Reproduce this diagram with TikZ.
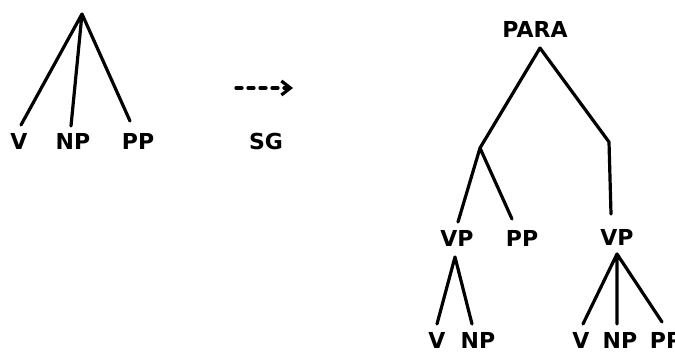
\documentclass[tikz,border=0pt]{standalone}
\usepackage{fontspec}
\setmainfont{DejaVu Sans}
\usetikzlibrary{arrows.meta}
\begin{document}
\begin{tikzpicture}[x=1pt,y=-1pt,
  lab/.style={font=\bfseries\fontsize{22}{22}\selectfont, inner sep=0pt},
  edge/.style={line width=3.2pt, line cap=round, line join=round}]
\useasboundingbox (0,0) rectangle (675,352);
% left tree
\coordinate (t) at (82,14);
\coordinate (tv) at (21,125);
\coordinate (tnp) at (71,126);
\coordinate (tpp) at (130,121);
\node[lab] (v1) at (19,141) {V};
\node[lab] (np1) at (73,141) {NP};
\node[lab] (pp1) at (138,141) {PP};
\draw[edge] (tv) -- (t) -- (tnp) (t) -- (tpp);
% arrow
\coordinate (a0) at (236,88);
\coordinate (a1) at (293,88);
\draw[edge, dash pattern=on 6pt off 6pt, -{Straight Barb[length=9pt,width=14pt,line width=3.2pt]}] (a0) -- (a1);
\node[lab] (sg) at (266,141) {SG};
% right tree
\node[lab] (para) at (535,29) {PARA};
\coordinate (p) at (540,48);
\coordinate (l) at (480,148);
\coordinate (r) at (609,142);
\coordinate (rb) at (611,214);
\draw[edge] (l) -- (p) -- (r) -- (rb);
\coordinate (lvp) at (458,222);
\coordinate (lpp) at (512,219);
\draw[edge] (lvp) -- (l) -- (lpp);
\node[lab] (vp1) at (457,238) {VP};
\node[lab] (pp2) at (522,238) {PP};
\node[lab] (vp2) at (617,237) {VP};
% left VP subtree
\coordinate (q) at (455,257);
\coordinate (qv) at (437,324);
\coordinate (qnp) at (472,324);
\draw[edge] (qv) -- (q) -- (qnp);
\node[lab] (v2) at (437,340) {V};
\node[lab] (np2) at (478,340) {NP};
% right VP subtree
\coordinate (s) at (617,254);
\coordinate (sv) at (583,324);
\coordinate (snp) at (617,324);
\coordinate (spp) at (662,322);
\draw[edge] (sv) -- (s) -- (snp) (s) -- (spp);
\node[lab] (v3) at (581,340) {V};
\node[lab] (np3) at (620,340) {NP};
\node[lab] (pp3) at (666,340) {PP};
\end{tikzpicture}
\end{document}
